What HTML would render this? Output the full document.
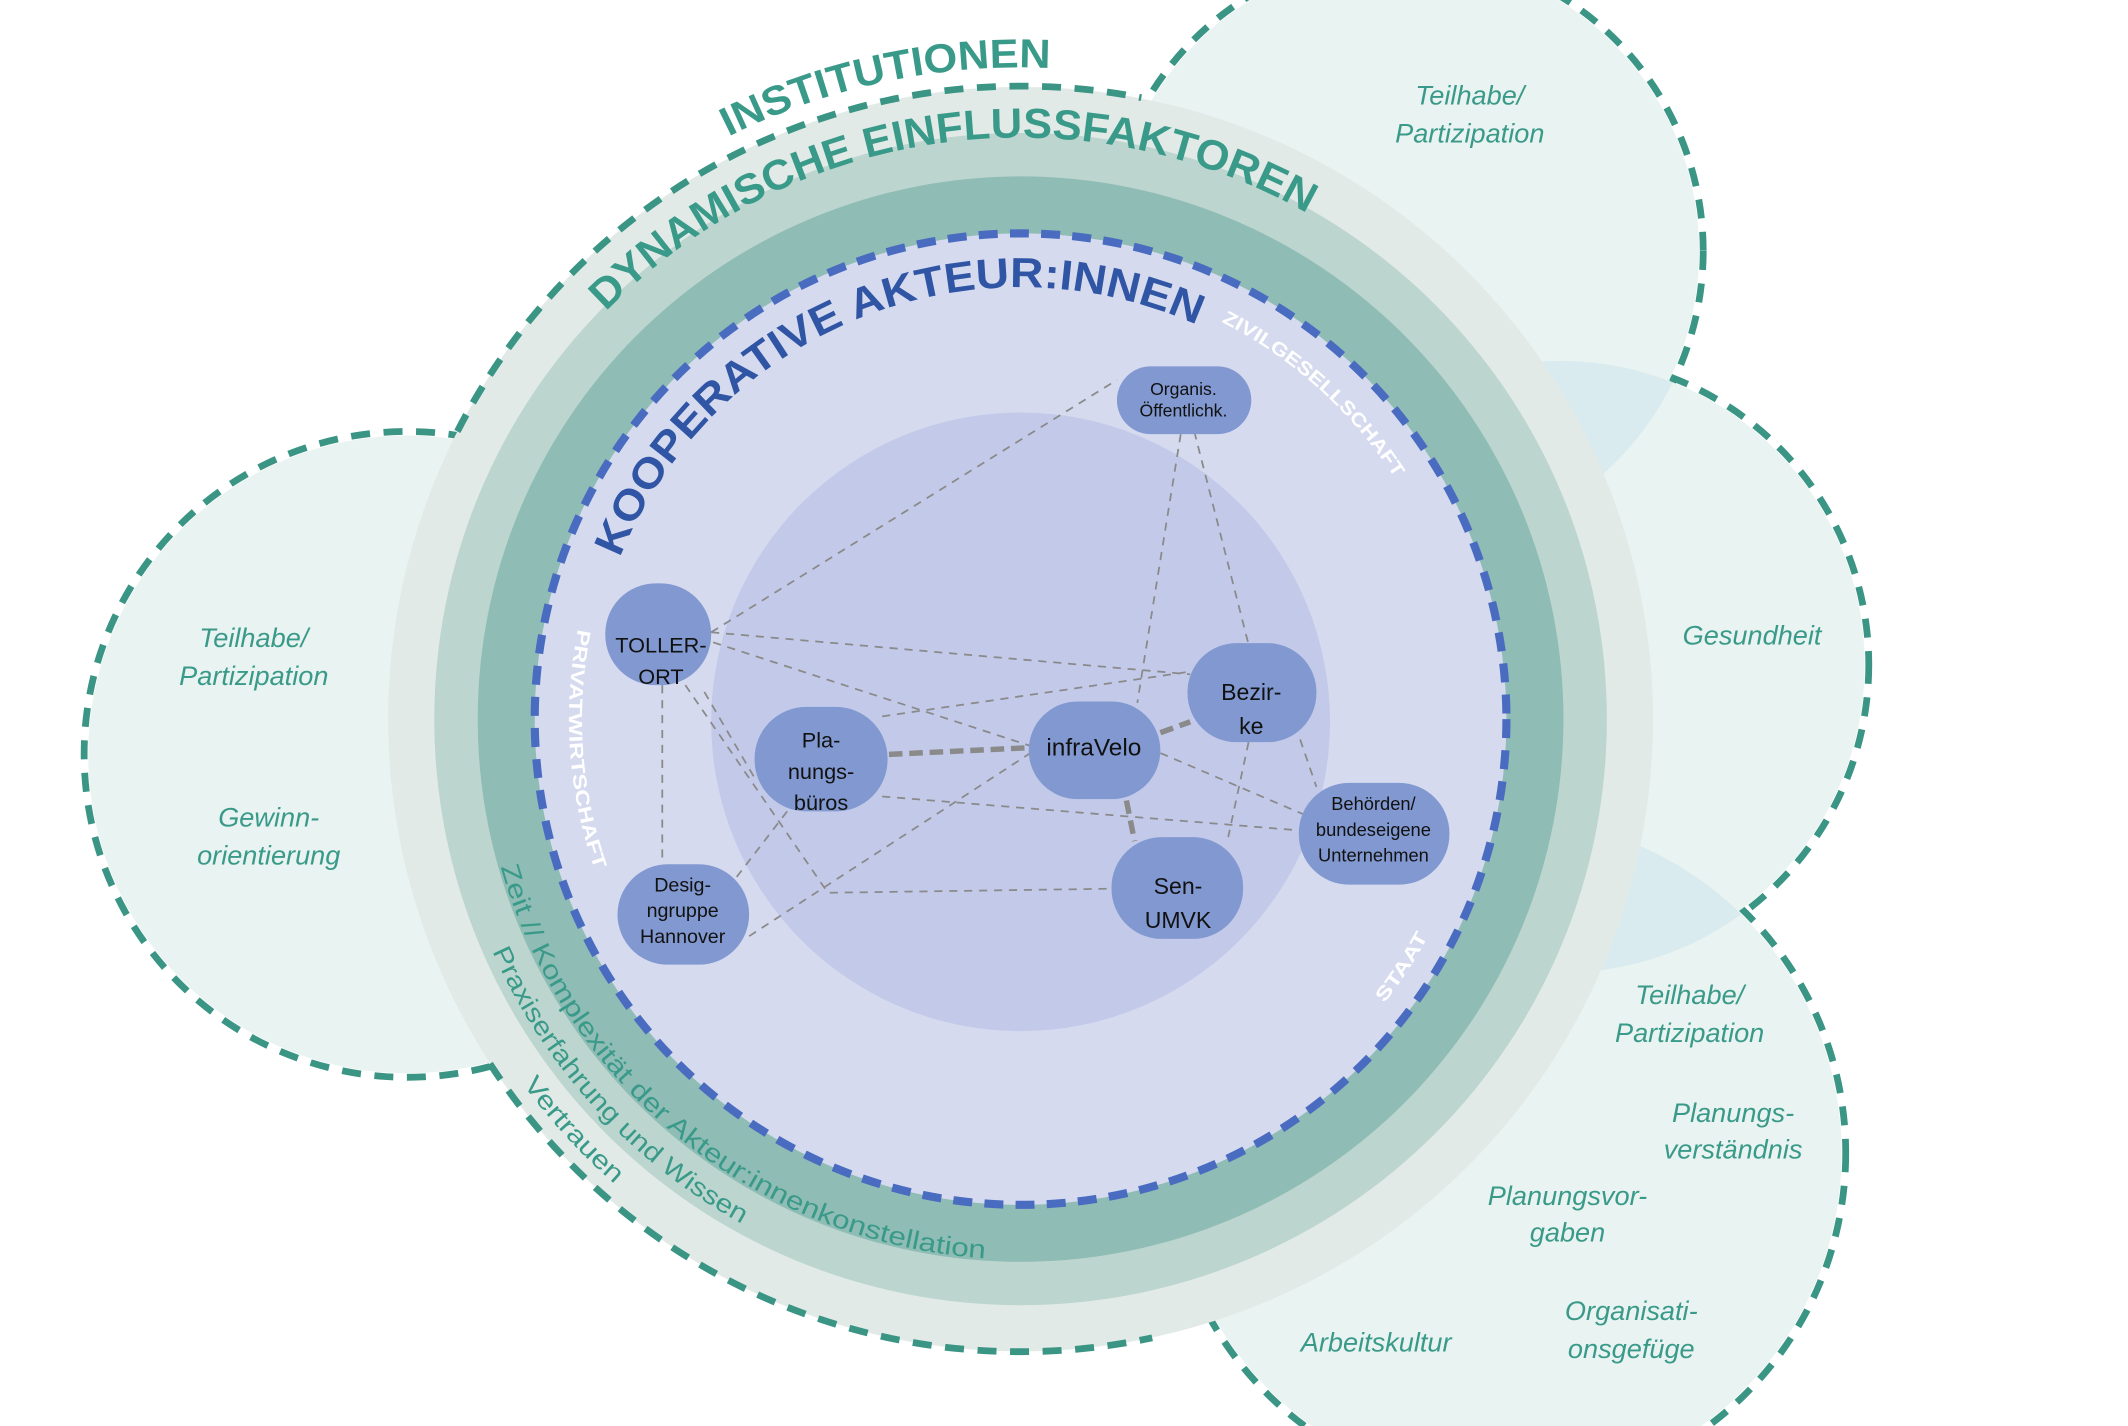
<!DOCTYPE html>
<html><head><meta charset="utf-8"><style>html,body{margin:0;padding:0;background:#fff;}svg{display:block}</style></head>
<body>
<svg width="2128" height="1426" viewBox="0 0 1568 1051" preserveAspectRatio="none" xmlns="http://www.w3.org/2000/svg" font-family="Liberation Sans, sans-serif">
<rect width="1568" height="1051" fill="#fff"/>
<defs>
<path id="pInst" d="M431,173 A480,480 0 0 1 900,73"/>
<path id="pDyn" d="M410,272 A428,428 0 0 1 1010,188"/>
<path id="pKoop" d="M442,458 A318,318 0 0 1 925,263"/>
<path id="pZiv" d="M820,209 A328,328 0 0 1 1064,429"/>
<path id="pStaat" d="M906,833 A340,340 0 0 0 1092,548"/>
<path id="pPriv" d="M453,384 A333,333 0 0 0 476,716"/>
<path id="pZeit" d="M356,572 A398,398 0 0 0 794,926"/>
<path id="pPrax" d="M327,548 A425,425 0 0 0 696,951"/>
<path id="pVert" d="M308,629 A455,455 0 0 0 616,964"/>
<clipPath id="cTR"><circle cx="1035" cy="185" r="220"/></clipPath>
<clipPath id="cR"><circle cx="1150" cy="490" r="227"/></clipPath>
</defs>
<!-- outer bubble strokes -->
<g fill="none" stroke="#3a9585" stroke-width="5" stroke-dasharray="14 10">
<circle cx="1035" cy="185" r="220"/>
<circle cx="1150" cy="490" r="227"/>
<circle cx="1110" cy="850" r="250"/>
<circle cx="300" cy="556" r="238"/>
</g>
<!-- fills -->
<g fill="#e9f3f1">
<circle cx="1035" cy="185" r="217"/>
<circle cx="1150" cy="490" r="224"/>
<circle cx="1110" cy="850" r="247"/>
<circle cx="300" cy="556" r="235"/>
</g>
<circle cx="1150" cy="490" r="224" fill="#d9ebee" clip-path="url(#cTR)"/>
<circle cx="1110" cy="850" r="247" fill="#d9ebee" clip-path="url(#cR)"/>
<!-- main circles -->
<circle cx="752" cy="530" r="466" fill="#e2eae7"/>
<g fill="none" stroke="#3a9585" stroke-width="5" stroke-dasharray="14 10">
<path d="M337,318 A466,466 0 0 1 841,72"/>
<path d="M361,784 A466,466 0 0 0 849,986"/>
</g>
<circle cx="752" cy="530" r="432" fill="#bcd6cf"/>
<circle cx="752" cy="530" r="400" fill="#8fbcb5"/>
<circle cx="752" cy="530" r="358" fill="#d5daef" stroke="#4a6cc0" stroke-width="6" stroke-dasharray="14 9"/>
<circle cx="752" cy="532" r="228" fill="#c3cae9"/>
<!-- curved labels -->
<text font-size="30" font-weight="bold" fill="#3a9a89"><textPath href="#pInst" startOffset="50%" text-anchor="middle" textLength="245" lengthAdjust="spacingAndGlyphs">INSTITUTIONEN</textPath></text>
<text font-size="31" font-weight="bold" fill="#3a9a89"><textPath href="#pDyn" startOffset="50%" text-anchor="middle" textLength="561" lengthAdjust="spacingAndGlyphs">DYNAMISCHE EINFLUSSFAKTOREN</textPath></text>
<text font-size="31" font-weight="bold" fill="#2f55a4"><textPath href="#pKoop" startOffset="50%" text-anchor="middle" textLength="512" lengthAdjust="spacingAndGlyphs">KOOPERATIVE AKTEUR:INNEN</textPath></text>
<text font-size="14" font-weight="bold" fill="#fff"><textPath href="#pZiv" startOffset="50%" text-anchor="middle" textLength="174" lengthAdjust="spacingAndGlyphs">ZIVILGESELLSCHAFT</textPath></text>
<text font-size="14" font-weight="bold" fill="#fff"><textPath href="#pStaat" startOffset="50%" text-anchor="middle" textLength="59" lengthAdjust="spacingAndGlyphs">STAAT</textPath></text>
<text font-size="14" font-weight="bold" fill="#fff"><textPath href="#pPriv" startOffset="50%" text-anchor="middle" textLength="180" lengthAdjust="spacingAndGlyphs">PRIVATWIRTSCHAFT</textPath></text>
<text font-size="19" fill="#3a9a89"><textPath href="#pZeit" startOffset="50%" text-anchor="middle" textLength="489" lengthAdjust="spacingAndGlyphs">Zeit // Komplexität der Akteur:innenkonstellation</textPath></text>
<text font-size="19" fill="#3a9a89"><textPath href="#pPrax" startOffset="50%" text-anchor="middle" textLength="277" lengthAdjust="spacingAndGlyphs">Praxiserfahrung und Wissen</textPath></text>
<text font-size="19" fill="#3a9a89"><textPath href="#pVert" startOffset="50%" text-anchor="middle" textLength="100" lengthAdjust="spacingAndGlyphs">Vertrauen</textPath></text>
<!-- connectors -->
<g stroke="#8a8a8a" stroke-width="1.3" stroke-dasharray="6 5" fill="none">
<line x1="870" y1="320" x2="838" y2="518"/>
<line x1="880" y1="318" x2="920" y2="475"/>
<line x1="524" y1="466" x2="823" y2="280"/>
<line x1="524" y1="466" x2="877" y2="497"/>
<line x1="515" y1="470" x2="760" y2="550"/>
<line x1="488" y1="505" x2="488" y2="637"/>
<polyline points="505,505 610,658 819,655"/>
<line x1="650" y1="528" x2="877" y2="495"/>
<line x1="650" y1="587" x2="957" y2="612"/>
<line x1="580" y1="598" x2="540" y2="650"/>
<line x1="552" y1="690" x2="770" y2="548"/>
<line x1="855" y1="555" x2="960" y2="600"/>
<line x1="920" y1="547" x2="905" y2="617"/>
<line x1="958" y1="545" x2="970" y2="580"/>
<line x1="519" y1="510" x2="557" y2="575"/>
</g>
<g stroke="#8a8a8a" stroke-width="4" stroke-dasharray="10 5" fill="none">
<line x1="655" y1="556" x2="760" y2="551"/>
<line x1="855" y1="540" x2="877" y2="532"/>
<line x1="830" y1="590" x2="836" y2="620"/>
</g>
<!-- nodes -->
<g fill="#8198d0">
<rect x="823" y="270" width="99" height="50" rx="25"/>
<rect x="446" y="430" width="78" height="75" rx="37"/>
<rect x="556" y="521" width="98" height="77" rx="38"/>
<rect x="758" y="517" width="97" height="72" rx="36"/>
<rect x="875" y="474" width="95" height="73" rx="36"/>
<rect x="957" y="577" width="111" height="75" rx="37"/>
<rect x="819" y="617" width="97" height="75" rx="37"/>
<rect x="455" y="637" width="97" height="74" rx="37"/>
</g>
<g fill="#111" text-anchor="middle" font-size="16">
<text font-size="13"><tspan x="872" y="291">Organis.</tspan><tspan x="872" y="307">Öffentlichk.</tspan></text>
<text><tspan x="487" y="481">TOLLER-</tspan><tspan x="487" y="504">ORT</tspan></text>
<text><tspan x="605" y="551">Pla-</tspan><tspan x="605" y="574">nungs-</tspan><tspan x="605" y="597">büros</tspan></text>
<text font-size="18"><tspan x="806" y="557">infraVelo</tspan></text>
<text font-size="17"><tspan x="922" y="516">Bezir-</tspan><tspan x="922" y="541">ke</tspan></text>
<text font-size="13.5"><tspan x="1012" y="597">Behörden/</tspan><tspan x="1012" y="616">bundeseigene</tspan><tspan x="1012" y="635">Unternehmen</tspan></text>
<text font-size="17"><tspan x="868" y="659">Sen-</tspan><tspan x="868" y="684">UMVK</tspan></text>
<text font-size="14.5"><tspan x="503" y="657">Desig-</tspan><tspan x="503" y="676">ngruppe</tspan><tspan x="503" y="695">Hannover</tspan></text>
</g>
<!-- bubble labels -->
<g fill="#3a9a89" font-style="italic" font-size="20" text-anchor="middle">
<text><tspan x="1083" y="77">Teilhabe/</tspan><tspan x="1083" y="105">Partizipation</tspan></text>
<text><tspan x="187" y="477">Teilhabe/</tspan><tspan x="187" y="505">Partizipation</tspan></text>
<text><tspan x="198" y="609">Gewinn-</tspan><tspan x="198" y="637">orientierung</tspan></text>
<text><tspan x="1291" y="475">Gesundheit</tspan></text>
<text><tspan x="1245" y="740">Teilhabe/</tspan><tspan x="1245" y="768">Partizipation</tspan></text>
<text><tspan x="1277" y="827">Planungs-</tspan><tspan x="1277" y="854">verständnis</tspan></text>
<text><tspan x="1155" y="888">Planungsvor-</tspan><tspan x="1155" y="915">gaben</tspan></text>
<text><tspan x="1202" y="973">Organisati-</tspan><tspan x="1202" y="1001">onsgefüge</tspan></text>
<text><tspan x="1014" y="996">Arbeitskultur</tspan></text>
</g>
</svg>
</body></html>
